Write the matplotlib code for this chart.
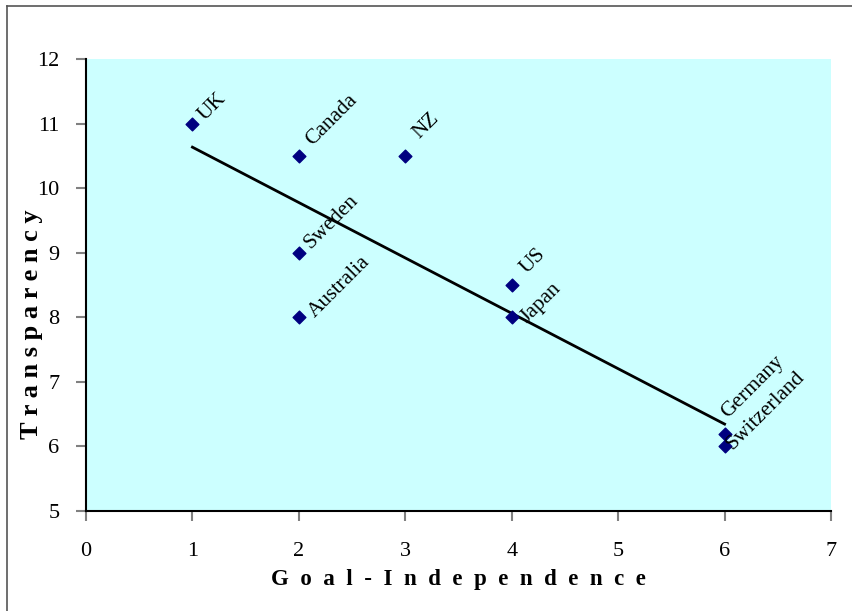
import numpy as np
import matplotlib
matplotlib.use("Agg")
import matplotlib.pyplot as plt
from matplotlib.lines import Line2D

# data
countries = ["UK", "Canada", "NZ", "Sweden", "Australia", "US", "Japan", "Germany", "Switzerland"]
goal_indep = [1, 2, 3, 2, 2, 4, 4, 6, 6]
transparency = [11, 10.5, 10.5, 9, 8, 8.5, 8, 6.2, 6]

x_ticks = list(range(0, 8))
y_ticks = list(range(5, 13))

# label nudges in pixels (right, up) - the labels were dragged by hand in the original
label_offsets = {
    "UK": (9, 6), "Canada": (10, 13), "NZ": (11, 20), "Sweden": (9, 7),
    "Australia": (13, 2), "US": (12, 14), "Japan": (12, -3),
    "Germany": (0, 18), "Switzerland": (5, 0),
}

plt.rcParams['font.family'] = ['Liberation Serif', 'DejaVu Serif']

fig = plt.figure(figsize=(8.53, 6.11), dpi=100)
ax = fig.add_axes([86 / 853, 1 - 511 / 611, (831 - 86) / 853, (511 - 59) / 611])
ax.set_facecolor('#CCFFFF')

ax.scatter(goal_indep, transparency, marker='D', s=42, color='#000080', zorder=3)

# linear trend line (least squares) between min and max x
slope, icpt = np.polyfit(goal_indep, transparency, 1)
xs = np.array([min(goal_indep), max(goal_indep)])
ax.plot(xs, slope * xs + icpt, color='black', lw=2, zorder=2)

for name, x, y in zip(countries, goal_indep, transparency):
    dx, dy = label_offsets[name]
    ax.annotate(name, (x, y), xytext=(dx * 0.72, dy * 0.72), textcoords='offset points',
                rotation=45, rotation_mode='anchor', ha='left', va='center',
                fontsize=15.5, color='black')

ax.set_xlim(0, 7)
ax.set_ylim(5, 12)
ax.set_xticks(x_ticks)
ax.set_yticks(y_ticks)
ax.tick_params(axis='both', labelsize=16, color='#808080', length=7, width=1.5)
ax.tick_params(axis='x', pad=15)
ax.tick_params(axis='y', pad=12)

for s in ['top', 'right']:
    ax.spines[s].set_visible(False)
for s in ['left', 'bottom']:
    ax.spines[s].set_color('black')
    ax.spines[s].set_linewidth(1.5)

ax.set_xlabel('G  o  a  l  -  I  n  d  e  p  e  n  d  e  n  c  e', fontsize=16.5, fontweight='bold')
ax.set_ylabel('T r a n s p a r e n c y', fontsize=19, fontweight='bold')
ax.xaxis.set_label_coords(0.5, -0.128)
ax.yaxis.set_label_coords(-0.058, 0.414)

# outer chart-area border (only top and left visible in the crop)
fig.add_artist(Line2D([7 / 853, 7 / 853], [0, 1 - 6 / 611], color='#555555', lw=1.2))
fig.add_artist(Line2D([7 / 853, 1], [1 - 6 / 611, 1 - 6 / 611], color='#555555', lw=1.2))

plt.savefig('out.png', dpi=100)
